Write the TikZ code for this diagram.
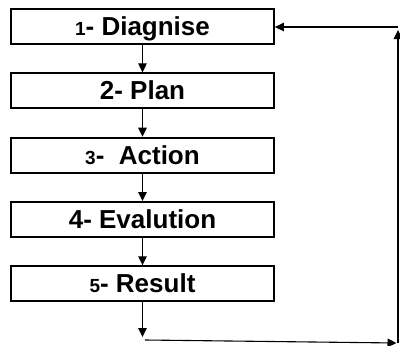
\documentclass[tikz,border=0pt]{standalone}
\usepackage{fontspec}
\setmainfont{Liberation Sans}
\usetikzlibrary{positioning,arrows.meta}

\newcommand\stepno[1]{{\fontsize{19}{19}\selectfont #1}}

\begin{document}
\begin{tikzpicture}[x=1pt,y=1pt,
  stage/.style={draw, line width=1.8pt, minimum width=263pt, minimum height=35pt,
    inner sep=0pt, text height=18pt, text depth=0pt,
    font=\fontsize{26}{26}\selectfont\bfseries},
  flow/.style={-{Triangle[length=9pt,width=8.5pt]}, line width=1.1pt},
  node distance=27.5pt]
\useasboundingbox (0,0) rectangle (400,-346);

% the five stages
\node[stage] (diagnise) at (142.5,-26.5) {\stepno{1}- Diagnise};
\node[stage, below=of diagnise] (plan) {2- Plan};
\node[stage, below=of plan] (action) {\stepno{3}-\ \ Action};
\node[stage, below=of action] (evalution) {4- Evalution};
\node[stage, below=of evalution] (result) {\stepno{5}- Result};

\draw[flow] (diagnise) -- (plan);
\draw[flow] (plan) -- (action);
\draw[flow] (action) -- (evalution);
\draw[flow] (evalution) -- (result);

% feedback loop back to the top
\coordinate (out) at (142.5,-337);
\coordinate (low) at (145,-340);
\coordinate (lowright) at (396.5,-343);
\coordinate (upright) at (398,-30);
\coordinate (top) at (398,-27);

\draw[flow] (result) -- (out);
\draw[flow] (low) -- (lowright);
\draw[flow] (398,-343) -- (upright);
\draw[flow] (top) -- (diagnise.east |- top);
\end{tikzpicture}
\end{document}
